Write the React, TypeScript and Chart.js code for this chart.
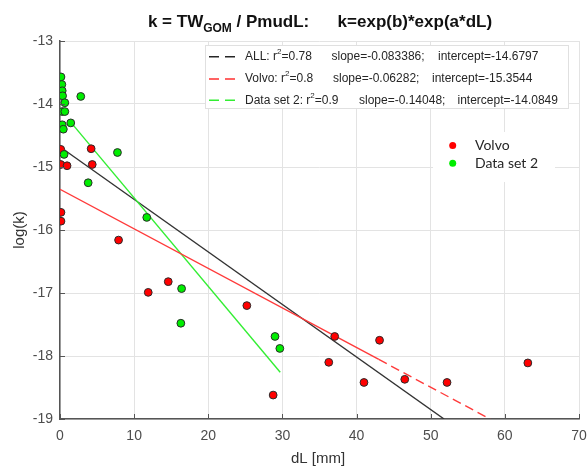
import React, { useEffect, useRef } from "react";
import { Chart, registerables } from "chart.js";
Chart.register(...registerables);

// ---- data ----
const volvoX = [0.1, 4.2, 0.1, 0.95, 4.35, 0.13, 0.13, 7.9, 11.9, 14.6, 25.2, 28.75, 37.05, 43.1, 36.25, 41.0, 46.5, 52.2, 63.1];
const volvoY = [-14.72, -14.71, -14.96, -14.98, -14.96, -15.72, -15.86, -16.16, -16.99, -16.82, -17.2, -18.62, -17.69, -17.75, -18.1, -18.42, -18.37, -18.42, -18.11];

const ds2X = [0.13, 0.25, 0.3, 0.35, 2.8, 0.65, 0.3, 0.65, 1.45, 0.3, 0.45, 0.55, 7.75, 3.8, 11.7, 16.4, 16.3, 29.0, 29.65];
const ds2Y = [-13.57, -13.69, -13.79, -13.87, -13.88, -13.98, -14.12, -14.12, -14.3, -14.33, -14.4, -14.8, -14.77, -15.25, -15.8, -16.93, -17.48, -17.69, -17.88];

// fitted lines (end points)
const allLineX = [0.6, 51.8];
const allLineY = [-14.73, -19.0];
const volvoLineX = [0, 43, 58.0];
const volvoLineY = [-15.354, -18.055, -19.0];
const ds2LineX = [1.5, 29.7];
const ds2LineY = [-14.295, -18.257];

// legend text
const fitNames = ["ALL", "Volvo", "Data set 2"];
const fitR2 = ["0.78", "0.8", "0.9"];
const fitSlope = ["-0.083386", "-0.06282", "-0.14048"];
const fitIntercept = ["-14.6797", "-15.3544", "-14.0849"];
const fitColors = ["#262626", "#ff3030", "#33ee33"];
const scatterNames = ["Volvo", "Data set 2"];

const xTicksMin = 0, xTicksMax = 70, xStep = 10;
const yTicksMin = -19, yTicksMax = -13, yStep = 1;

const FONT = '"Liberation Sans", Arial, sans-serif';

const toPts = (xs: number[], ys: number[]) => xs.map((x, i) => ({ x, y: ys[i] }));

const decorPlugin = {
  id: "decor",
  afterDraw(chart: any) {
    const ctx = chart.ctx as CanvasRenderingContext2D;
    const xs = chart.scales.x, ys = chart.scales.y;
    const ca = chart.chartArea;
    ctx.save();

    // inward tick marks
    ctx.strokeStyle = "#555";
    ctx.lineWidth = 1;
    for (let v = yTicksMin; v <= yTicksMax; v += yStep) {
      const py = Math.round(ys.getPixelForValue(v)) + 0.5;
      ctx.beginPath(); ctx.moveTo(ca.left, py); ctx.lineTo(ca.left + 5, py); ctx.stroke();
    }
    for (let v = xTicksMin; v <= xTicksMax; v += xStep) {
      const px = Math.round(xs.getPixelForValue(v)) + 0.5;
      ctx.beginPath(); ctx.moveTo(px, ca.bottom); ctx.lineTo(px, ca.bottom - 5); ctx.stroke();
    }

    // title with subscript
    const tParts: [string, string, number][] = [
      ["k = TW", "bold 17px " + FONT, 0],
      ["GOM", "bold 12px " + FONT, 5],
      [" / PmudL:      k=exp(b)*exp(a*dL)", "bold 17px " + FONT, 0],
    ];
    let tw = 0;
    tParts.forEach(([s, f]) => { ctx.font = f; tw += ctx.measureText(s).width; });
    let tx = 320 - tw / 2;
    ctx.fillStyle = "#111";
    ctx.textBaseline = "alphabetic";
    ctx.textAlign = "left";
    tParts.forEach(([s, f, dy]) => { ctx.font = f; ctx.fillText(s, tx, 27 + dy); tx += ctx.measureText(s).width; });

    // axis titles
    ctx.fillStyle = "#333";
    ctx.font = "15px " + FONT;
    ctx.textAlign = "center";
    ctx.textBaseline = "middle";
    ctx.fillText("dL [mm]", 318, 459);
    ctx.save();
    ctx.translate(20, 230);
    ctx.rotate(-Math.PI / 2);
    ctx.fillText("log(k)", 0, 0);
    ctx.restore();

    // fit legend box
    const bx = 205, by = 45, bw = 363, bh = 63;
    ctx.fillStyle = "#fff";
    ctx.fillRect(bx, by, bw, bh);
    ctx.strokeStyle = "#e0e0e0";
    ctx.lineWidth = 1;
    ctx.strokeRect(bx + 0.5, by + 0.5, bw, bh);
    const rowY = [56.7, 79, 100.3];
    const slopeX = [331.5, 333, 359];
    const interX = [438, 432, 457.5];
    ctx.textAlign = "left";
    ctx.textBaseline = "middle";
    for (let i = 0; i < 3; i++) {
      const y = rowY[i];
      ctx.strokeStyle = fitColors[i];
      ctx.lineWidth = 1.5;
      ctx.setLineDash([10, 6]);
      ctx.beginPath(); ctx.moveTo(209, y); ctx.lineTo(237, y); ctx.stroke();
      ctx.setLineDash([]);
      ctx.fillStyle = "#262626";
      let x = 245;
      ctx.font = "12px " + FONT;
      const a = fitNames[i] + ": r";
      ctx.fillText(a, x, y); x += ctx.measureText(a).width;
      ctx.font = "8px " + FONT;
      ctx.fillText("2", x, y - 5); x += ctx.measureText("2").width;
      ctx.font = "12px " + FONT;
      ctx.fillText("=" + fitR2[i], x, y);
      ctx.fillText("slope=" + fitSlope[i] + ";", slopeX[i], y);
      ctx.fillText("intercept=" + fitIntercept[i], interX[i], y);
    }

    // scatter legend
    ctx.fillStyle = "#fff";
    ctx.fillRect(433, 132, 122, 50);
    const sRow = [145.5, 163.3];
    const sCol = ["#ff0000", "#00ee00"];
    for (let i = 0; i < 2; i++) {
      ctx.fillStyle = sCol[i];
      ctx.beginPath(); ctx.arc(452.7, sRow[i], 3.5, 0, Math.PI * 2); ctx.fill();
      ctx.fillStyle = "#262626";
      ctx.font = '14px Lato, "Open Sans", sans-serif';
      ctx.fillText(scatterNames[i], 475, sRow[i]);
    }
    ctx.restore();
  },
};

export default function App() {
  const ref = useRef<HTMLCanvasElement>(null);
  useEffect(() => {
    const chart = new Chart(ref.current!, {
      type: "scatter",
      data: {
        datasets: [
          {
            label: "Data set 2",
            data: toPts(ds2X, ds2Y),
            backgroundColor: "#00ee00",
            borderColor: "#2a2a2a",
            borderWidth: 1,
            pointRadius: 3.9,
            order: 0,
          },
          {
            label: "Volvo",
            data: toPts(volvoX, volvoY),
            backgroundColor: "#ff0000",
            borderColor: "#2a2a2a",
            borderWidth: 1,
            pointRadius: 3.9,
            order: 1,
          },
          {
            type: "line",
            label: "ALL fit",
            data: toPts(allLineX, allLineY),
            borderColor: "#333333",
            borderWidth: 1.4,
            pointRadius: 0,
            showLine: true,
            fill: false,
            order: 3,
          } as any,
          {
            type: "line",
            label: "Volvo fit",
            data: toPts(volvoLineX, volvoLineY),
            borderColor: "#ff3a3a",
            borderWidth: 1.4,
            pointRadius: 0,
            showLine: true,
            fill: false,
            segment: { borderDash: (c: any) => (c.p0DataIndex === 1 ? [9, 5] : undefined) },
            order: 2,
          } as any,
          {
            type: "line",
            label: "Data set 2 fit",
            data: toPts(ds2LineX, ds2LineY),
            borderColor: "#33ee33",
            borderWidth: 1.4,
            pointRadius: 0,
            showLine: true,
            fill: false,
            order: 2,
          } as any,
        ],
      },
      options: {
        responsive: false,
        animation: false,
        devicePixelRatio: 1,
        layout: { padding: { left: 0, top: 41, right: 8, bottom: 0 } },
        plugins: { legend: { display: false }, tooltip: { enabled: false }, title: { display: false } },
        scales: {
          x: {
            type: "linear",
            min: xTicksMin,
            max: xTicksMax,
            ticks: { stepSize: xStep, padding: 9, color: "#4d4d4d", font: { family: FONT, size: 14 } },
            grid: { color: "#e3e3e3", drawTicks: false },
            border: { color: "#555", width: 1.5 },
            afterFit: (s: any) => { s.height = 53; s.paddingLeft = 0; s.paddingRight = 0; },
          },
          y: {
            type: "linear",
            min: yTicksMin,
            max: yTicksMax,
            ticks: { stepSize: yStep, padding: 7, color: "#4d4d4d", font: { family: FONT, size: 14 } },
            grid: { color: "#e3e3e3", drawTicks: false },
            border: { color: "#555", width: 1.5 },
            afterFit: (s: any) => { s.width = 60; s.paddingTop = 0; s.paddingBottom = 0; },
          },
        },
      },
      plugins: [decorPlugin],
    } as any);
    return () => chart.destroy();
  }, []);
  return (
    <div style={{ position: "fixed", left: 0, top: 0, width: 587, height: 472, background: "#fff" }}>
      <canvas ref={ref} width={587} height={472} style={{ width: 587, height: 472, display: "block" }} />
    </div>
  );
}
